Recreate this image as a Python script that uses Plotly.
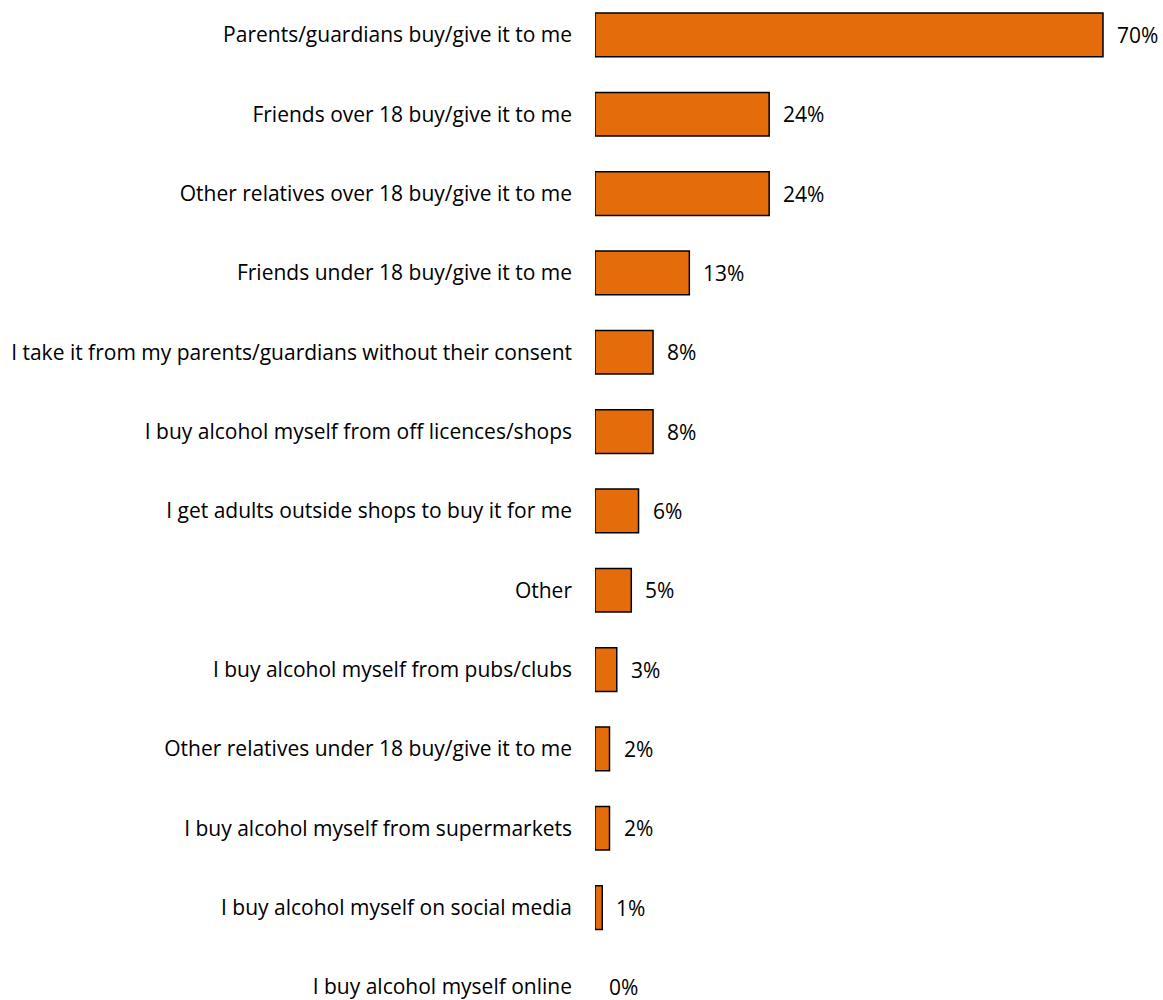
import plotly.graph_objects as go

# Sources of alcohol (share of respondents, %)
sources = [
    "Parents/guardians buy/give it to me",
    "Friends over 18 buy/give it to me",
    "Other relatives over 18 buy/give it to me",
    "Friends under 18 buy/give it to me",
    "I take it from my parents/guardians without their consent",
    "I buy alcohol myself from off licences/shops",
    "I get adults outside shops to buy it for me",
    "Other",
    "I buy alcohol myself from pubs/clubs",
    "Other relatives under 18 buy/give it to me",
    "I buy alcohol myself from supermarkets",
    "I buy alcohol myself on social media",
    "I buy alcohol myself online",
]
shares = [70, 24, 24, 13, 8, 8, 6, 5, 3, 2, 2, 1, 0]

FONT = "Open Sans, Calibri, sans-serif"
FONT_SIZE = 21
BAR_COLOR = "#E46C0A"

fig = go.Figure()
fig.add_trace(go.Bar(
    x=shares,
    y=sources,
    orientation="h",
    width=0.55,
    marker=dict(
        color=BAR_COLOR,
        # no outline for empty bars
        line=dict(color="#000000", width=[1.5 if v > 0 else 0 for v in shares]),
    ),
    hoverinfo="skip",
))

# value labels to the right of each bar
for s, v in zip(sources, shares):
    fig.add_annotation(
        x=v, y=s, text=f"{v}%", showarrow=False,
        xanchor="left", yanchor="middle", xshift=12,
        font=dict(family=FONT, size=FONT_SIZE, color="#000000"),
    )

fig.update_layout(
    width=1163, height=1000,
    margin=dict(l=595, r=0, t=0, b=0),
    paper_bgcolor="white", plot_bgcolor="white",
    showlegend=False,
    font=dict(family=FONT, size=FONT_SIZE, color="#000000"),
    xaxis=dict(range=[0, 78.27], visible=False, fixedrange=True),
    yaxis=dict(
        type="category",
        range=[12.14, -0.44],
        showgrid=False, zeroline=False, showline=False,
        ticks="", ticklabelstandoff=22,
        tickfont=dict(family=FONT, size=FONT_SIZE, color="#000000"),
        fixedrange=True,
    ),
)

fig.write_html("out.html")
